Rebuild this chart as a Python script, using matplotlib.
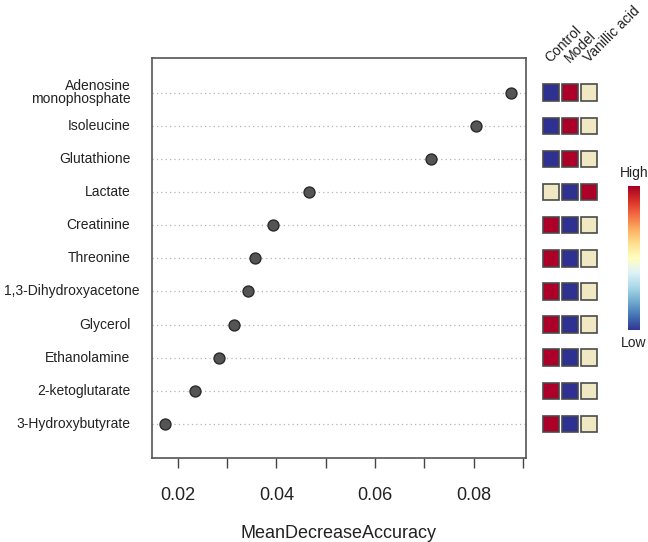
import numpy as np
import matplotlib.pyplot as plt
from matplotlib.patches import Rectangle
import matplotlib as mpl

plt.rcParams['font.family'] = ['Liberation Sans', 'DejaVu Sans']

# ---------------- DATA ----------------
features = ["Adenosine\nmonophosphate", "Isoleucine", "Glutathione", "Lactate",
            "Creatinine", "Threonine", "1,3-Dihydroxyacetone", "Glycerol",
            "Ethanolamine", "2-ketoglutarate", "3-Hydroxybutyrate"]
mda = [0.0876, 0.0805, 0.0714, 0.0467, 0.0392, 0.0356, 0.0342, 0.0313,
       0.0283, 0.0234, 0.0174]
groups = ["Control", "Model", "Vanillic acid"]
# relative level per group: 0 = low, 0.5 = mid, 1 = high
control = [0, 0, 0, 0.5, 1, 1, 1, 1, 1, 1, 1]
model = [1, 1, 1, 0, 0, 0, 0, 0, 0, 0, 0]
vanillic = [0.5, 0.5, 0.5, 1, 0.5, 0.5, 0.5, 0.5, 0.5, 0.5, 0.5]
xticks = [0.02, 0.03, 0.04, 0.05, 0.06, 0.07, 0.08, 0.09]
xticklabels = ["0.02", "", "0.04", "", "0.06", "", "0.08", ""]

W, H = 648, 542
fig = plt.figure(figsize=(W / 100, H / 100), dpi=100)

def px(l, t, r, b):
    return [l / W, 1 - b / H, (r - l) / W, (b - t) / H]

n = len(features)
ypos = np.arange(n, 0, -1)

# ---------------- DOT CHART ----------------
ax = fig.add_axes(px(152, 58, 526, 458))
for y in ypos:
    ax.axhline(y, color="#b5b5b5", lw=0.9, ls=(0, (1, 2.5)), zorder=1)
ax.scatter(mda, ypos, s=62, color="#555555", edgecolor="#2a2a2a", lw=1.0, zorder=3)
ax.set_xlim(0.01474, 0.09065)
ax.set_ylim(-0.03, 12.05)
ax.set_yticks([])
ax.set_xticks(xticks)
ax.set_xticklabels(xticklabels, fontsize=13, color="#222222")
ax.tick_params(axis="x", length=7, width=1, color="#444444", pad=14)
for s in ax.spines.values():
    s.set_color("#555555")
    s.set_linewidth(1.2)
ax.set_xlabel("MeanDecreaseAccuracy", fontsize=13, color="#222222", labelpad=15)

# row labels, right-aligned near the axis
label_objs = []
for lab, y in zip(features, ypos):
    t = ax.text(-0.058, y, lab, transform=ax.get_yaxis_transform(), ha="right",
                va="center", multialignment="right", fontsize=10, color="#222222",
                linespacing=0.9)
    label_objs.append(t)

# ---------------- HEATMAP ----------------
hx = fig.add_axes(px(541, 58, 599, 458))
hx.set_xlim(-0.5, 2.5)
hx.set_ylim(-0.03, 12.05)
hx.axis("off")
cmap = plt.get_cmap("RdYlBu_r")
cell_colors = {0: "#2e3192", 0.5: "#efe8c2", 1: "#ad0028"}
for j, vals in enumerate([control, model, vanillic]):
    for v, y in zip(vals, ypos):
        hx.add_patch(Rectangle((j - 0.42, y - 0.25), 0.84, 0.5,
                               facecolor=cell_colors[v], edgecolor="#4a4a4a", lw=1.2))
for j, g in enumerate(groups):
    hx.text(j + 0.1, 11.82, g, rotation=45, rotation_mode="anchor", ha="left",
            va="bottom", fontsize=10, color="#222222", clip_on=False)

# ---------------- COLOR KEY ----------------
cx = fig.add_axes(px(628, 186, 640, 330))
grad = np.linspace(0, 1, 256).reshape(-1, 1)
cx.imshow(grad, aspect="auto", cmap=cmap, origin="lower", extent=[0, 1, 0, 1])
cx.set_xticks([])
cx.set_yticks([])
for s in cx.spines.values():
    s.set_visible(False)
cx.text(0.5, 1.04, "High", transform=cx.transAxes, ha="center", va="bottom",
        fontsize=10, color="#222222")
cx.text(0.5, -0.04, "Low", transform=cx.transAxes, ha="center", va="top",
        fontsize=10, color="#222222")

# keep long labels inside the figure
fig.canvas.draw()
r = fig.canvas.get_renderer()
for t in label_objs:
    bb = t.get_window_extent(r)
    if bb.x0 < 4:
        t.set_ha("left")
        t.set_transform(mpl.transforms.IdentityTransform())
        t.set_position((4, bb.y0 + bb.height / 2))

fig.savefig("out.png", dpi=100)
